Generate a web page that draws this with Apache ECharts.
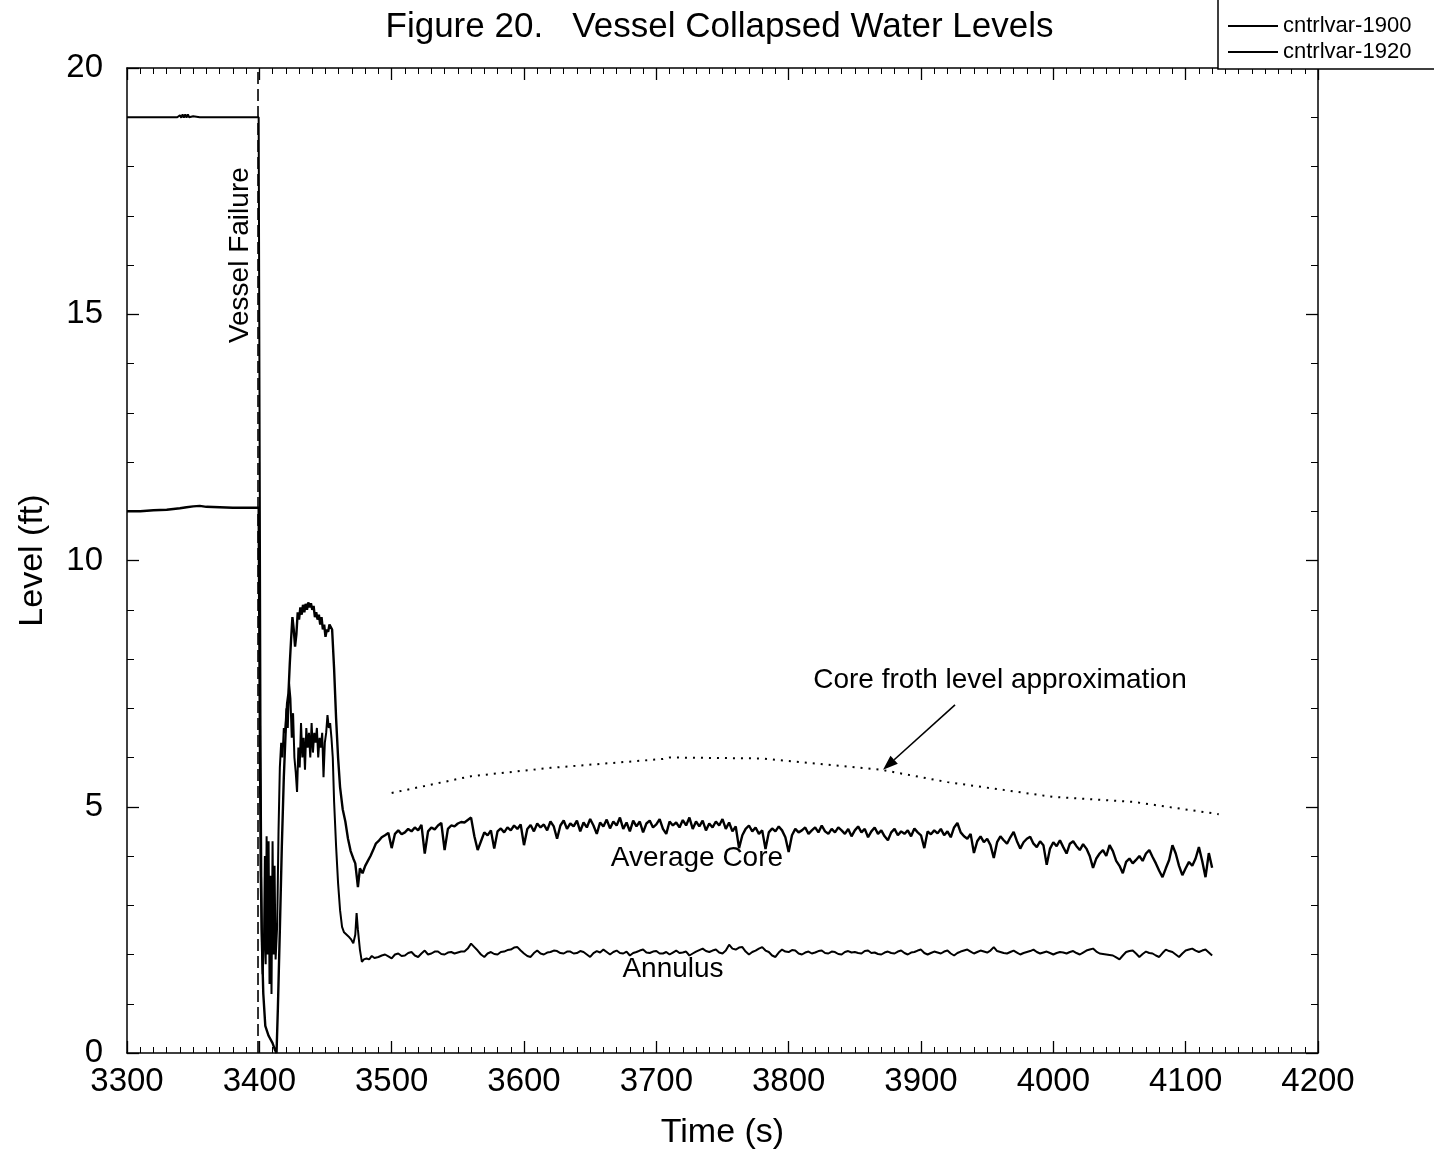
<!DOCTYPE html>
<html>
<head>
<meta charset="utf-8">
<title>Vessel Collapsed Water Levels</title>
<script src="https://cdn.jsdelivr.net/npm/echarts@6/dist/echarts.min.js"></script>
<style>
  html, body { margin: 0; padding: 0; background: #fff; }
  #chart { width: 1434px; height: 1154px; }
</style>
</head>
<body>
<div id="chart"></div>
<script>
// Time of vessel failure (s)
const failureTime = 3399;

// Axis ranges and tick spacing
const timeMin = 3300, timeMax = 4200, timeStep = 100;
const levelMin = 0, levelMax = 20, levelStep = 5;

// cntrlvar-1900: average core collapsed level (ft), [time (s), level] up to 3488 s
const coreEarly = [
  [3300, 11.0], [3310, 11.0], [3320, 11.02], [3330, 11.03], [3340, 11.06], [3345, 11.08],
  [3350, 11.1], [3355, 11.11], [3360, 11.09], [3370, 11.08], [3380, 11.07], [3390, 11.07],
  [3399.5, 11.07], [3400.3, 7.0], [3401, 3.8], [3402, 2.2], [3403, 1.2], [3404.5, 0.55],
  [3407, 0.35], [3410, 0.2], [3412, 0.05], [3413, 0.0], [3414, 0.9], [3415.5, 2.5],
  [3417, 4.2], [3418.5, 5.6], [3420, 6.6], [3421, 7.1], [3422, 7.3], [3423, 7.9],
  [3424, 8.4], [3425, 8.85], [3426, 8.6], [3427, 8.25], [3428, 8.5], [3429, 8.95],
  [3430, 8.8], [3431, 9.05], [3432, 8.9], [3433, 9.1], [3434, 8.95], [3435, 9.12],
  [3436, 9.0], [3437, 9.15], [3438, 9.05], [3439, 9.13], [3440, 9.0], [3441, 9.08],
  [3442, 8.85], [3443, 8.95], [3444, 8.8], [3445, 8.9], [3446, 8.7], [3447, 8.85],
  [3448, 8.6], [3449, 8.7], [3450, 8.45], [3451, 8.6], [3452, 8.55], [3453, 8.7],
  [3455, 8.6], [3456.5, 7.8], [3458, 6.8], [3459.5, 6.0], [3461, 5.4], [3463, 4.95],
  [3465, 4.7], [3467, 4.35], [3469, 4.1], [3471, 3.95], [3472.5, 3.85], [3474.5, 3.37],
  [3476, 3.75], [3478, 3.65], [3480, 3.8], [3482, 3.9], [3484, 4.0], [3486, 4.12],
  [3488, 4.25]
];

// cntrlvar-1920: annulus collapsed level (ft), [time (s), level] up to 3487 s
const annulusEarly = [
  [3300, 19.0], [3320, 19.0], [3338, 19.0], [3340, 19.04], [3341, 18.99], [3342, 19.06],
  [3343, 18.99], [3344, 19.06], [3345, 18.99], [3346, 19.06], [3347, 19.0], [3350, 19.02],
  [3355, 19.0], [3370, 19.0], [3380, 19.0], [3390, 19.0], [3399.5, 19.0], [3400.3, 12.0],
  [3401, 6.0], [3401.8, 2.5], [3402.5, 1.6], [3403.5, 2.3], [3404.2, 4.0], [3404.8, 1.8],
  [3405.5, 4.4], [3406.2, 2.0], [3407, 4.3], [3407.7, 1.4], [3408.5, 3.6], [3409.2, 1.2],
  [3410, 4.3], [3410.8, 2.0], [3411.5, 3.8], [3412.3, 1.9], [3413.5, 2.6], [3414.5, 4.5],
  [3415.5, 5.8], [3416.5, 6.3], [3417.5, 6.0], [3418.5, 6.6], [3419.5, 6.5], [3420.5, 7.0],
  [3421.5, 6.6], [3422.5, 7.5], [3423.5, 7.2], [3424.5, 6.4], [3425.5, 6.9], [3426.5, 6.0],
  [3427.5, 5.7], [3428.5, 5.3], [3429.5, 6.2], [3430.5, 5.8], [3431.5, 6.7], [3432.5, 6.0],
  [3433.5, 6.4], [3434.5, 5.75], [3435.5, 6.6], [3436.5, 6.2], [3437.5, 6.5], [3438.5, 6.0],
  [3439.5, 6.7], [3440.5, 6.1], [3441.5, 6.5], [3442.5, 6.3], [3443.5, 6.6], [3444.5, 6.0],
  [3445.5, 6.4], [3446.5, 6.2], [3447.5, 6.5], [3448.5, 5.6], [3449.5, 6.3], [3450.5, 6.5],
  [3451.5, 6.86], [3452.5, 6.6], [3453.5, 6.7], [3454.5, 6.4], [3455.5, 6.0], [3456.5, 5.1],
  [3458, 4.2], [3459.5, 3.45], [3461, 2.9], [3462.5, 2.56], [3464, 2.45], [3466, 2.4],
  [3468, 2.35], [3469.5, 2.3], [3471, 2.23], [3472.5, 2.4], [3473.5, 2.84], [3474.5, 2.5],
  [3476, 2.1], [3477.5, 1.85], [3479, 1.9], [3481, 1.92], [3483, 1.9], [3485, 1.97],
  [3487, 1.93]
];

// Late-time samples, every 2.5 s from 3490 s (each row spans 25 s)
const tailStart = 3490, tailStep = 2.5;

const coreTail = [
  4.30, 4.38, 4.42, 4.47, 4.16, 4.45, 4.52, 4.44, 4.48, 4.55, // 3490
  4.50, 4.58, 4.52, 4.63, 4.05, 4.50, 4.58, 4.54, 4.62, 4.67, // 3515
  4.12, 4.55, 4.62, 4.60, 4.66, 4.69, 4.68, 4.73, 4.78, 4.40, // 3540
  4.12, 4.30, 4.48, 4.42, 4.52, 4.15, 4.50, 4.56, 4.48, 4.58, // 3565
  4.52, 4.62, 4.55, 4.64, 4.22, 4.55, 4.63, 4.50, 4.66, 4.58, // 3590
  4.64, 4.52, 4.70, 4.60, 4.35, 4.62, 4.72, 4.55, 4.66, 4.60, // 3615
  4.72, 4.50, 4.68, 4.58, 4.75, 4.62, 4.45, 4.68, 4.60, 4.74, // 3640
  4.56, 4.70, 4.62, 4.78, 4.55, 4.68, 4.50, 4.72, 4.60, 4.70, // 3665
  4.48, 4.66, 4.72, 4.58, 4.64, 4.75, 4.55, 4.45, 4.70, 4.62, // 3690
  4.68, 4.58, 4.73, 4.62, 4.78, 4.55, 4.70, 4.60, 4.72, 4.52, // 3715
  4.66, 4.58, 4.70, 4.62, 4.75, 4.55, 4.68, 4.50, 4.60, 4.16, // 3740
  4.42, 4.55, 4.62, 4.50, 4.58, 4.45, 4.52, 4.14, 4.48, 4.56, // 3765
  4.50, 4.60, 4.52, 4.38, 4.08, 4.42, 4.55, 4.48, 4.52, 4.58, // 3790
  4.45, 4.52, 4.58, 4.48, 4.62, 4.50, 4.45, 4.55, 4.48, 4.58, // 3815
  4.52, 4.45, 4.55, 4.40, 4.52, 4.60, 4.48, 4.55, 4.38, 4.50, // 3840
  4.58, 4.45, 4.52, 4.40, 4.32, 4.48, 4.55, 4.42, 4.50, 4.45, // 3865
  4.52, 4.40, 4.56, 4.48, 4.42, 4.16, 4.50, 4.44, 4.52, 4.46, // 3890
  4.55, 4.42, 4.50, 4.38, 4.58, 4.67, 4.48, 4.40, 4.35, 4.45, // 3915
  4.06, 4.30, 4.40, 4.28, 4.35, 4.22, 3.96, 4.28, 4.40, 4.32, // 3940
  4.25, 4.38, 4.49, 4.30, 4.15, 4.28, 4.35, 4.39, 4.25, 4.18, // 3965
  4.30, 4.22, 3.82, 4.15, 4.28, 4.20, 4.32, 4.18, 4.05, 4.25, // 3990
  4.30, 4.20, 4.12, 4.24, 4.15, 4.00, 3.76, 3.95, 4.05, 4.12, // 4015
  4.00, 4.22, 4.10, 3.90, 3.80, 3.65, 3.88, 3.95, 3.85, 3.92, // 4040
  4.00, 3.90, 4.05, 4.12, 3.98, 3.85, 3.70, 3.57, 3.75, 3.92, // 4065
  4.22, 4.05, 3.80, 3.61, 3.75, 3.88, 3.80, 3.95, 4.18, 3.90, // 4090
  3.57, 4.06, 3.76                                            // 4115
];

const annulusTail = [
  1.95, 1.98, 2.00, 1.96, 1.92, 2.00, 2.02, 1.97, 1.98, 2.03, // 3490
  2.05, 1.98, 1.95, 2.02, 2.08, 2.00, 2.02, 2.06, 2.06, 2.01, // 3515
  2.00, 2.04, 2.05, 2.02, 2.04, 2.06, 2.06, 2.12, 2.22, 2.15, // 3540
  2.08, 2.00, 1.95, 2.02, 2.05, 2.01, 2.00, 2.05, 2.06, 2.09, // 3565
  2.10, 2.14, 2.15, 2.08, 2.02, 1.97, 1.95, 2.03, 2.08, 2.02, // 3590
  2.00, 2.04, 2.05, 2.08, 2.07, 2.03, 2.02, 2.06, 2.06, 2.02, // 3615
  2.03, 2.07, 2.05, 2.00, 1.95, 2.03, 2.07, 2.04, 2.10, 2.05, // 3640
  2.00, 2.05, 2.08, 2.03, 2.02, 2.06, 1.98, 2.03, 2.05, 2.08, // 3665
  2.10, 2.04, 2.03, 2.06, 2.07, 2.02, 2.02, 2.05, 2.00, 2.04, // 3690
  2.08, 2.03, 2.04, 2.06, 1.98, 2.02, 2.06, 2.09, 2.12, 2.07, // 3715
  2.05, 2.08, 2.10, 2.04, 2.02, 2.08, 2.20, 2.12, 2.10, 2.14, // 3740
  2.15, 2.06, 2.00, 2.05, 2.08, 2.12, 2.15, 2.08, 2.05, 1.98, // 3765
  1.95, 2.04, 2.10, 2.06, 2.05, 2.09, 2.08, 2.02, 2.00, 2.04, // 3790
  2.06, 2.02, 2.04, 2.07, 2.08, 2.03, 2.02, 2.06, 2.05, 2.01, // 3815
  2.00, 2.05, 2.07, 2.04, 2.05, 2.03, 2.02, 2.07, 2.08, 2.03, // 3840
  2.04, 2.01, 2.00, 2.04, 2.06, 2.03, 2.02, 2.06, 2.08, 2.03, // 3865
  2.00, 2.04, 2.05, 2.08, 2.10, 2.03, 2.00, 2.03, 2.06, 2.04, // 3890
  2.02, 2.06, 2.08, 2.02, 1.98, 2.03, 2.06, 2.08, 2.10, 2.06, // 3915
  2.02, 2.05, 2.08, 2.06, 2.04, 2.08, 2.15, 2.07, 2.05, 2.03, // 3940
  2.02, 2.05, 2.08, 2.04, 2.00, 2.03, 2.05, 2.07, 2.10, 2.05, // 3965
  2.02, 2.04, 2.06, 2.03, 2.00, 2.03, 2.05, 2.04, 2.02, 2.05, // 3990
  2.07, 2.03, 2.00, 2.04, 2.08, 2.10, 2.12, 2.06, 2.02, 2.01, // 4015
  2.00, 1.99, 1.98, 1.94, 1.90, 1.98, 2.05, 2.07, 2.08, 2.02, // 4040
  1.95, 2.01, 2.06, 2.03, 2.02, 1.98, 1.95, 2.03, 2.10, 2.07, // 4065
  2.05, 2.00, 1.95, 2.02, 2.08, 2.10, 2.12, 2.08, 2.05, 2.08, // 4090
  2.10, 2.04, 1.98                                            // 4115
];

// Core froth level approximation (ft)
const frothLevel = [
  [3500, 5.28], [3560, 5.62], [3620, 5.79], [3705, 5.97], [3710, 6.0], [3780, 5.98],
  [3870, 5.75], [3920, 5.5], [4000, 5.2], [4060, 5.1], [4125, 4.85]
];

// Vertical marker at vessel failure
const failureMarker = [[failureTime, levelMin], [failureTime, levelMax]];

// Annotation anchor points in data units [time, level]
const notes = {
  failure: [3385.4, 16.2],
  froth: [3959.7, 7.57],
  arrowFrom: [3925.7, 7.07],
  arrowTo: [3871.3, 5.75],
  core: [3730.7, 3.96],
  annulus: [3712.6, 1.71]
};

function withTail(early, tail) {
  return early.concat(tail.map((v, i) => [tailStart + i * tailStep, v]));
}
const coreLevel = withTail(coreEarly, coreTail);
const annulusLevel = withTail(annulusEarly, annulusTail);

const FONT = '"Liberation Sans", Arial, Helvetica, sans-serif';

const chart = echarts.init(document.getElementById('chart'), null, { renderer: 'canvas' });

function axisCommon(showLabel, labelMargin, minorSplit, minorLen) {
  return {
    axisLine: { show: true, onZero: false, lineStyle: { color: '#000', width: 1.5 } },
    axisTick: { show: true, inside: true, length: 12, lineStyle: { color: '#000', width: 1.3 } },
    minorTick: { show: true, splitNumber: minorSplit, length: minorLen, lineStyle: { color: '#000', width: 1 } },
    splitLine: { show: false },
    axisLabel: {
      show: showLabel, color: '#000', fontSize: 33, fontFamily: FONT, margin: labelMargin,
      showMinLabel: true, showMaxLabel: true,
      formatter: (v) => String(v)
    }
  };
}

const xBase = { type: 'value', min: timeMin, max: timeMax, interval: timeStep };
const yBase = { type: 'value', min: levelMin, max: levelMax, interval: levelStep };

const lineCommon = {
  type: 'line', showSymbol: false, symbol: 'none', animation: false, silent: true,
  xAxisIndex: 0, yAxisIndex: 0
};

chart.setOption({
  backgroundColor: '#fff',
  animation: false,
  grid: { left: 127, top: 68, right: 116, bottom: 101, containLabel: false },
  xAxis: [
    Object.assign({}, xBase, axisCommon(true, 12, 10, 6), { position: 'bottom' }),
    Object.assign({}, xBase, axisCommon(false, 8, 10, 6), { position: 'top' })
  ],
  yAxis: [
    Object.assign({}, yBase, axisCommon(true, 24, 5, 7), { position: 'left' }),
    Object.assign({}, yBase, axisCommon(false, 8, 5, 7), { position: 'right' })
  ],
  legend: {
    show: true,
    orient: 'vertical',
    left: 1218, top: -1,
    data: ['cntrlvar-1900', 'cntrlvar-1920'],
    icon: 'rect',
    itemWidth: 50, itemHeight: 2.2, itemGap: 4,
    padding: [16, 26, 6, 10],
    borderColor: '#000', borderWidth: 1.5, borderRadius: 0,
    backgroundColor: '#fff',
    textStyle: { color: '#000', fontSize: 22, fontFamily: FONT },
    selectedMode: false
  },
  series: [
    Object.assign({}, lineCommon, {
      name: 'cntrlvar-1900', data: coreLevel, z: 4,
      lineStyle: { color: '#000', width: 2.4 }, itemStyle: { color: '#000' }
    }),
    Object.assign({}, lineCommon, {
      name: 'cntrlvar-1920', data: annulusLevel, z: 3,
      lineStyle: { color: '#000', width: 2.0 }, itemStyle: { color: '#000' }
    }),
    Object.assign({}, lineCommon, {
      name: 'froth', data: frothLevel, z: 2,
      lineStyle: { color: '#000', width: 2, type: [2, 6] }
    }),
    Object.assign({}, lineCommon, {
      name: 'failure', data: failureMarker, z: 2,
      lineStyle: { color: '#000', width: 1.6, type: [12, 5] }
    })
  ]
});

// Text annotations, axis names and arrow placed from data coordinates
function px(p) { return chart.convertToPixel({ gridIndex: 0 }, p); }

const pFail = px(notes.failure);
const pFroth = px(notes.froth);
const pFrom = px(notes.arrowFrom);
const pTo = px(notes.arrowTo);
const pCore = px(notes.core);
const pAnn = px(notes.annulus);
const pMidX = px([(timeMin + timeMax) / 2, levelMin]);
const pMidY = px([timeMin, (levelMin + levelMax) / 2]);
const pTop = px([(timeMin + timeMax) / 2, levelMax]);

// arrowhead geometry
const dx = pTo[0] - pFrom[0], dy = pTo[1] - pFrom[1];
const len = Math.sqrt(dx * dx + dy * dy);
const ux = dx / len, uy = dy / len;
const headLen = 15, headHalf = 5.5;
const baseX = pTo[0] - ux * headLen, baseY = pTo[1] - uy * headLen;
const head = [
  [pTo[0], pTo[1]],
  [baseX - uy * headHalf, baseY + ux * headHalf],
  [baseX + uy * headHalf, baseY - ux * headHalf]
];

function label(text, x, y, size, extra) {
  return Object.assign({
    type: 'text', x: x, y: y, z: 100,
    style: {
      text: text, x: 0, y: 0, fill: '#000', fontSize: size, fontFamily: FONT,
      textAlign: 'center', textVerticalAlign: 'middle'
    }
  }, extra || {});
}

chart.setOption({
  graphic: [
    label('Figure 20.   Vessel Collapsed Water Levels', pTop[0] - 3, 27, 35),
    label('Time (s)', pMidX[0], 1133, 34),
    label('Level (ft)', 33, pMidY[1], 34, { rotation: Math.PI / 2 }),
    label('Vessel Failure', pFail[0], pFail[1], 28, { rotation: Math.PI / 2 }),
    label('Core froth level approximation', pFroth[0], pFroth[1], 28),
    label('Average Core', pCore[0], pCore[1], 28),
    label('Annulus', pAnn[0], pAnn[1], 28),
    {
      type: 'line', z: 100,
      shape: { x1: pFrom[0], y1: pFrom[1], x2: baseX, y2: baseY },
      style: { stroke: '#000', lineWidth: 1.6 }
    },
    {
      type: 'polygon', z: 100,
      shape: { points: head },
      style: { fill: '#000' }
    }
  ]
});
</script>
</body>
</html>
